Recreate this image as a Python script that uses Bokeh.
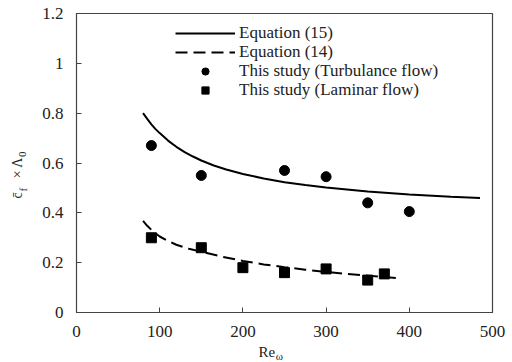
from bokeh.plotting import figure
from bokeh.models import Range1d, FixedTicker, Legend, LegendItem, Label
from bokeh.embed import file_html
from bokeh.resources import INLINE

# ---- data ----
eq15_re = [80, 85, 90, 95, 100, 110, 120, 130, 140, 150, 165, 180, 200, 225, 250, 275, 300, 350, 400, 450, 485]
eq15_val = [0.80, 0.777, 0.755, 0.736, 0.72, 0.69, 0.665, 0.644, 0.626, 0.61, 0.59, 0.574, 0.556, 0.538,
            0.523, 0.512, 0.502, 0.486, 0.474, 0.465, 0.46]

eq14_re = [80, 85, 90, 95, 100, 110, 120, 135, 150, 175, 200, 225, 250, 275, 300, 325, 350, 370, 390]
eq14_val = [0.368, 0.348, 0.332, 0.318, 0.305, 0.287, 0.272, 0.256, 0.244, 0.224, 0.207, 0.193, 0.182,
            0.172, 0.163, 0.155, 0.148, 0.142, 0.137]

turb_re = [90, 150, 250, 300, 350, 400]
turb_val = [0.67, 0.55, 0.57, 0.545, 0.44, 0.405]

lam_re = [90, 150, 200, 250, 300, 350, 370]
lam_val = [0.30, 0.26, 0.18, 0.16, 0.175, 0.13, 0.155]

x_ticks = [0, 100, 200, 300, 400, 500]
y_ticks = [0, 0.2, 0.4, 0.6, 0.8, 1.0, 1.2]
y_tick_labels = ["0", "0.2", "0.4", "0.6", "0.8", "1", "1.2"]

legend_labels = ["Equation (15)", "Equation (14)",
                 "This study (Turbulance flow)", "This study (Laminar flow)"]

FONT = "Liberation Serif"
X0, X1 = 0, 500
Y0, Y1 = 0, 1.2

W, H = 512, 362
L, R, T, B = 76, 20, 13, 50
FW, FH = W - L - R, H - T - B

p = figure(width=W, height=H, output_backend="svg", toolbar_location=None,
           x_range=Range1d(X0, X1), y_range=Range1d(Y0, Y1),
           min_border_left=L, min_border_right=R, min_border_top=T, min_border_bottom=B)
p.background_fill_color = "white"
p.border_fill_color = "white"
p.outline_line_color = "#444444"
p.outline_line_width = 1.2
p.xgrid.visible = False
p.ygrid.visible = False

for ax in (p.xaxis[0], p.yaxis[0]):
    ax.major_tick_in = 5
    ax.major_tick_out = 0
    ax.minor_tick_in = 0
    ax.minor_tick_out = 0
    ax.axis_line_color = "#444444"
    ax.major_tick_line_color = "#444444"
    ax.major_label_text_font = FONT
    ax.major_label_text_font_size = "17px"
    ax.major_label_text_color = "#222222"
    ax.major_label_standoff = 13

p.xaxis.ticker = FixedTicker(ticks=x_ticks)
p.yaxis.ticker = FixedTicker(ticks=y_ticks)
p.yaxis.major_label_overrides = {t: s for t, s in zip(y_ticks, y_tick_labels)}

r15 = p.line(eq15_re, eq15_val, line_color="black", line_width=2)
r14 = p.line(eq14_re, eq14_val, line_color="black", line_width=2, line_dash="12 6")
rt = p.scatter(turb_re, turb_val, marker="circle", size=10, color="black")
rl = p.scatter(lam_re, lam_val, marker="square", size=10, color="black")

# one single-row legend per entry, so each row sits exactly where the reference has it
rows_bottom = [269, 250, 231, 212]   # legend-box bottom, px above the frame bottom
for lbl, rend, yb in zip(legend_labels, [r15, r14, rt, rl], rows_bottom):
    lg = Legend(items=[LegendItem(label=lbl, renderers=[rend])],
                location=(99, yb), padding=0, margin=0, spacing=0,
                glyph_width=60, glyph_height=18, label_height=18,
                label_standoff=4, border_line_color=None,
                background_fill_alpha=0,
                label_text_font=FONT, label_text_font_size="17px",
                label_text_color="#222222")
    p.add_layout(lg, "center")


def dx(sx):
    return X0 + (sx - L) / FW * (X1 - X0)


def dy(sy):
    return Y0 + (T + FH - sy) / FH * (Y1 - Y0)


def lab(text, cx, cy, size, side, angle=0):
    # centred label placed in a side panel (so it is not clipped to the frame)
    p.add_layout(Label(x=dx(cx), y=dy(cy), text=text, angle=angle, angle_units="deg",
                       text_font=FONT, text_font_size=size, text_color="#222222",
                       text_align="center", text_baseline="middle"), side)


# y axis title: c̄_f × Λ_0 (rotated)
lab("c\u0304", 17.3, 194.9, "14px", "left", 90)
lab("\u00d7 \u039b", 17.3, 167.0, "14px", "left", 90)
lab("f", 22.3, 189.2, "11px", "above", 90)
lab("0", 22.3, 153.7, "11px", "right", 90)

# x axis title: Re_ω
lab("Re", 266.3, 351, "15px", "below")
lab("\u03c9", 278.8, 355, "11px", "left")

open("out.html", "w").write(file_html(p, INLINE))
